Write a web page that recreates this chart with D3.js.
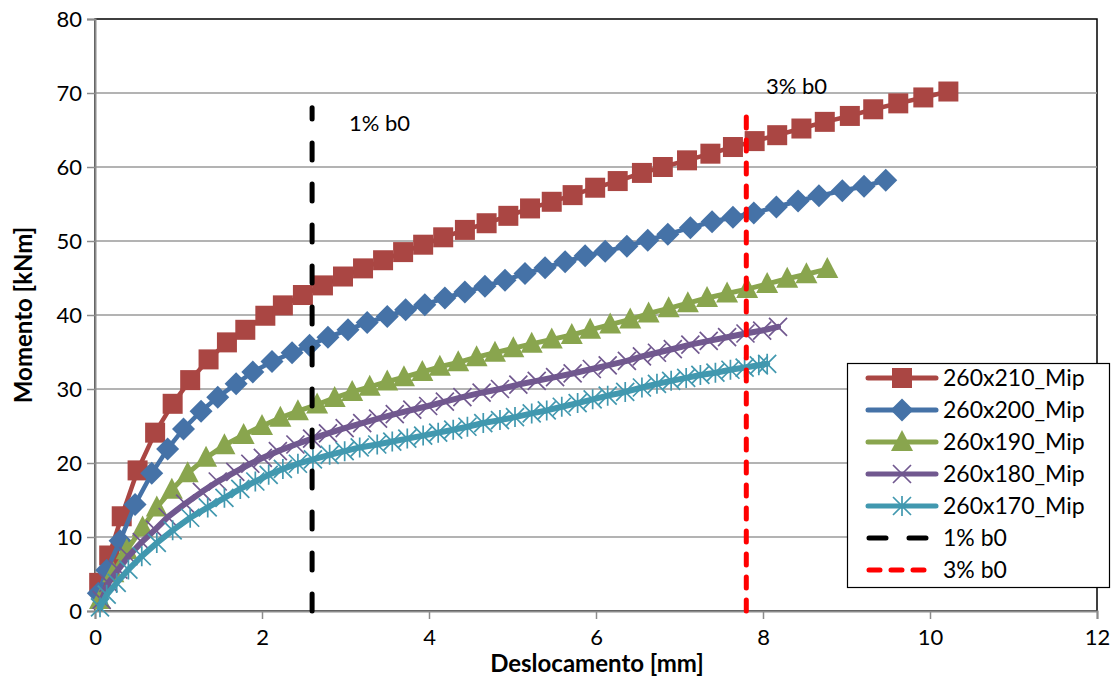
<!DOCTYPE html>
<html>
<head>
<meta charset="utf-8">
<script src="https://cdn.jsdelivr.net/npm/d3@7"></script>
<style>
  body { margin: 0; background: #fff; }
  svg { display: block; font-family: Lato, "Open Sans", sans-serif; }
</style>
</head>
<body>
<svg id="chart" width="1115" height="678"></svg>
<script>
// ---------- data ----------
const seriesNames = ["260x210_Mip", "260x200_Mip", "260x190_Mip", "260x180_Mip", "260x170_Mip"];

const x210 = [0.05,0.17,0.32,0.51,0.72,0.93,1.14,1.36,1.58,1.80,2.04,2.25,2.49,2.73,2.97,3.21,3.45,3.69,3.93,4.17,4.43,4.69,4.95,5.21,5.47,5.72,5.99,6.26,6.55,6.80,7.09,7.37,7.64,7.90,8.17,8.46,8.74,9.04,9.32,9.62,9.92,10.22];
const y210 = [3.8,7.5,12.8,19.0,24.1,28.0,31.2,34.0,36.3,38.0,39.9,41.3,42.7,44.0,45.2,46.3,47.4,48.5,49.5,50.5,51.5,52.4,53.4,54.4,55.3,56.2,57.2,58.1,59.2,60.0,60.9,61.8,62.7,63.5,64.3,65.2,66.1,66.9,67.8,68.6,69.4,70.2];

const x200 = [0.04,0.14,0.30,0.48,0.68,0.87,1.06,1.27,1.47,1.69,1.89,2.12,2.36,2.57,2.79,3.03,3.26,3.50,3.72,3.95,4.19,4.43,4.67,4.91,5.15,5.39,5.63,5.87,6.11,6.37,6.62,6.86,7.13,7.39,7.64,7.89,8.16,8.42,8.67,8.95,9.21,9.47];
const y200 = [2.4,5.5,9.5,14.4,18.6,21.9,24.6,27.0,28.9,30.7,32.3,33.7,34.9,35.9,37.0,38.0,39.0,39.8,40.7,41.4,42.3,43.1,43.9,44.7,45.6,46.4,47.2,48.0,48.6,49.3,50.1,50.9,51.8,52.6,53.2,53.8,54.6,55.4,56.1,56.8,57.4,58.2];

const x190 = [0.06,0.22,0.38,0.57,0.74,0.92,1.11,1.33,1.55,1.78,2.00,2.22,2.43,2.66,2.87,3.08,3.29,3.50,3.70,3.92,4.13,4.35,4.57,4.79,5.01,5.23,5.47,5.71,5.93,6.17,6.41,6.63,6.87,7.10,7.33,7.57,7.81,8.05,8.29,8.52,8.77];
const y190 = [1.5,5.1,8.2,11.3,14.0,16.4,18.6,20.7,22.4,23.8,25.0,26.1,27.0,27.9,28.8,29.6,30.3,31.0,31.6,32.3,33.0,33.6,34.3,34.9,35.5,36.1,36.7,37.3,38.0,38.7,39.4,40.2,40.9,41.6,42.3,42.9,43.5,44.2,44.9,45.5,46.2];

const x180 = [0.08,0.16,0.28,0.40,0.56,0.72,0.87,1.08,1.28,1.47,1.68,1.86,2.01,2.19,2.40,2.60,2.79,2.99,3.20,3.39,3.59,3.80,3.99,4.19,4.40,4.63,4.85,5.07,5.29,5.51,5.72,5.95,6.14,6.37,6.55,6.73,6.92,7.13,7.35,7.57,7.79,7.99,8.18];
const y180 = [1.5,3.8,5.6,7.4,9.3,11.0,12.7,14.5,16.1,17.5,18.8,19.9,20.7,21.6,22.5,23.3,24.0,24.7,25.4,26.0,26.6,27.2,27.7,28.3,28.9,29.5,30.0,30.6,31.1,31.6,32.1,32.7,33.2,33.8,34.4,34.9,35.4,36.0,36.5,37.0,37.5,37.9,38.4];

const x170 = [0.06,0.14,0.26,0.40,0.56,0.74,0.93,1.14,1.35,1.55,1.74,1.92,2.08,2.25,2.43,2.61,2.81,2.99,3.17,3.38,3.56,3.74,3.93,4.11,4.29,4.46,4.65,4.85,5.03,5.23,5.41,5.59,5.78,5.96,6.14,6.35,6.55,6.73,6.90,7.08,7.25,7.43,7.61,7.78,7.95,8.05];
const y170 = [0.5,2.2,3.8,5.6,7.4,9.2,10.9,12.6,14.0,15.3,16.5,17.5,18.4,19.2,19.9,20.5,21.1,21.6,22.1,22.5,22.9,23.3,23.7,24.1,24.5,24.9,25.4,25.8,26.2,26.7,27.1,27.6,28.1,28.6,29.1,29.6,30.2,30.7,31.1,31.5,31.9,32.2,32.6,32.9,33.2,33.4];

const refNames = ["1% b0", "3% b0"];
const refX = [2.6, 7.8];
const refTop = [68, 68];

const xTicks = [0, 2, 4, 6, 8, 10, 12];
const yTicks = [0, 10, 20, 30, 40, 50, 60, 70, 80];
const xTitle = "Deslocamento [mm]";
const yTitle = "Momento [kNm]";

// ---------- setup ----------
const colors = ["#AA4643", "#4572A7", "#89A54E", "#71588F", "#4198AF"];
const markers = ["square", "diamond", "triangle", "x", "star"];
const lineW = [4.5, 4.5, 5, 6, 6];
const allX = [x210, x200, x190, x180, x170];
const allY = [y210, y200, y190, y180, y170];

const svg = d3.select("#chart");
const L = 95, R = 1097, T = 19, B = 611;
const x = d3.scaleLinear().domain([0, 12]).range([L, R]);
const y = d3.scaleLinear().domain([0, 80]).range([B, T]);

// plot border
svg.append("rect").attr("x", L).attr("y", T).attr("width", R - L).attr("height", B - T)
  .attr("fill", "#fff").attr("stroke", "#000").attr("stroke-width", 1.5);

// gridlines
svg.append("g").selectAll("line").data(yTicks.filter(d => d > 0 && d < 80)).join("line")
  .attr("x1", L).attr("x2", R).attr("y1", d => y(d)).attr("y2", d => y(d))
  .attr("stroke", "#9a9a9a").attr("stroke-width", 1.5);

// axes
const axisColor = "#8c8c8c";
const gx = svg.append("g").attr("transform", `translate(0,${B})`)
  .call(d3.axisBottom(x).tickValues(xTicks).tickSize(8).tickPadding(10).tickFormat(d3.format("d")));
const gy = svg.append("g").attr("transform", `translate(${L},0)`)
  .call(d3.axisLeft(y).tickValues(yTicks).tickSize(8).tickPadding(5).tickFormat(d3.format("d")));
[gx, gy].forEach(g => {
  g.select(".domain").attr("stroke", axisColor).attr("stroke-width", 2);
  g.selectAll(".tick line").attr("stroke", axisColor).attr("stroke-width", 1.5);
  g.selectAll(".tick text").attr("fill", "#000").style("font-size", "22px")
    .style("font-family", "Lato, 'Open Sans', sans-serif");
});

// titles
svg.append("text").attr("x", 597).attr("y", 672).attr("text-anchor", "middle")
  .style("font-size", "24px").style("font-weight", "bold").text(xTitle);
svg.append("text").attr("transform", `translate(32,315) rotate(-90)`)
  .attr("text-anchor", "middle").style("font-size", "24px").style("font-weight", "bold").text(yTitle);

// marker drawing
function drawMarker(g, type, color, cx, cy) {
  if (type === "square") {
    g.append("rect").attr("x", cx - 10).attr("y", cy - 10).attr("width", 20).attr("height", 20).attr("fill", color);
  } else if (type === "diamond") {
    const s = 11.5;
    g.append("path").attr("d", `M${cx},${cy - s}L${cx + s},${cy}L${cx},${cy + s}L${cx - s},${cy}Z`).attr("fill", color);
  } else if (type === "triangle") {
    g.append("path").attr("d", `M${cx},${cy - 12}L${cx + 11},${cy + 9}L${cx - 11},${cy + 9}Z`).attr("fill", color);
  } else if (type === "x") {
    const s = 9;
    g.append("path").attr("d", `M${cx - s},${cy - s}L${cx + s},${cy + s}M${cx - s},${cy + s}L${cx + s},${cy - s}`)
      .attr("stroke", color).attr("stroke-width", 1.7).attr("fill", "none");
  } else if (type === "star") {
    const s = 9;
    g.append("path").attr("d", `M${cx - s},${cy - s}L${cx + s},${cy + s}M${cx - s},${cy + s}L${cx + s},${cy - s}M${cx},${cy - s - 1}L${cx},${cy + s + 1}`)
      .attr("stroke", color).attr("stroke-width", 1.7).attr("fill", "none");
  }
}

const line = d3.line().x(d => x(d[0])).y(d => y(d[1]));
seriesNames.forEach((name, i) => {
  const pts = allX[i].map((v, j) => [v, allY[i][j]]);
  const g = svg.append("g");
  g.append("path").datum(pts).attr("d", line).attr("fill", "none")
    .attr("stroke", colors[i]).attr("stroke-width", lineW[i]).attr("stroke-linejoin", "round").attr("stroke-linecap", "round");
  pts.forEach(p => drawMarker(g, markers[i], colors[i], x(p[0]), y(p[1])));
});

// reference lines
const refColors = ["#000000", "#FF0000"];
const refDash = ["17,24", "11,12"];
refX.forEach((v, i) => {
  svg.append("line").attr("x1", x(v)).attr("x2", x(v)).attr("y1", y(0)).attr("y2", y(refTop[i]))
    .attr("stroke", refColors[i]).attr("stroke-width", 5).attr("stroke-linecap", "round")
    .attr("stroke-dasharray", refDash[i]);
});
svg.append("text").attr("x", 349).attr("y", 131).style("font-size", "22px").text(refNames[0]);
svg.append("text").attr("x", 766).attr("y", 94).style("font-size", "22px").text(refNames[1]);

// legend
const lg = svg.append("g");
lg.append("rect").attr("x", 847.5).attr("y", 363.5).attr("width", 262).attr("height", 224)
  .attr("fill", "#fff").attr("stroke", "#000").attr("stroke-width", 1.2);
const rowY = i => 378 + i * 32;
seriesNames.forEach((name, i) => {
  const cy = rowY(i);
  lg.append("line").attr("x1", 868).attr("x2", 936).attr("y1", cy).attr("y2", cy)
    .attr("stroke", colors[i]).attr("stroke-width", 5).attr("stroke-linecap", "round");
  drawMarker(lg, markers[i], colors[i], 902, cy);
  lg.append("text").attr("x", 943).attr("y", cy).attr("dy", "0.36em").style("font-size", "23px").text(name);
});
refNames.forEach((name, i) => {
  const cy = rowY(5 + i);
  lg.append("line").attr("x1", 869).attr("x2", 926).attr("y1", cy).attr("y2", cy)
    .attr("stroke", refColors[i]).attr("stroke-width", 5).attr("stroke-linecap", "round")
    .attr("stroke-dasharray", i === 0 ? "17,23" : "11,11");
  lg.append("text").attr("x", 943).attr("y", cy).attr("dy", "0.36em").style("font-size", "23px").text(name);
});
</script>
</body>
</html>
